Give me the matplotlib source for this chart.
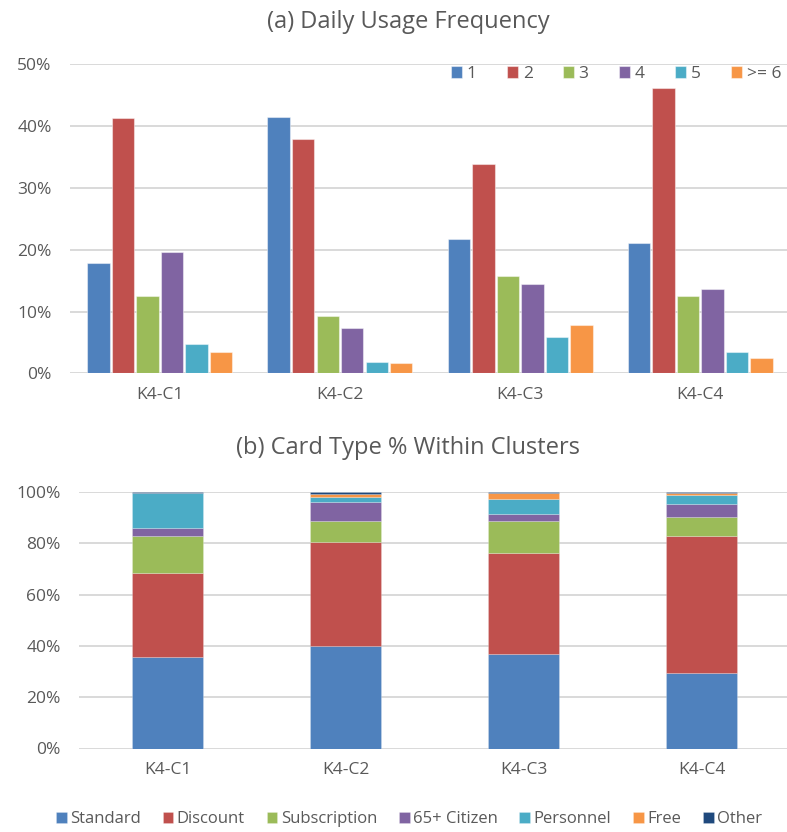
import numpy as np
import matplotlib
matplotlib.use("Agg")
import matplotlib.pyplot as plt
from matplotlib.ticker import FuncFormatter

plt.rcParams['font.family'] = ['Open Sans', 'DejaVu Sans']

# ---- data ----
clusters = ["K4-C1", "K4-C2", "K4-C3", "K4-C4"]

freq_labels = ["1", "2", "3", "4", "5", ">= 6"]
freq_1 = [17.8, 41.5, 21.8, 21.1]
freq_2 = [41.3, 37.9, 33.8, 46.2]
freq_3 = [12.5, 9.2, 15.8, 12.5]
freq_4 = [19.6, 7.4, 14.4, 13.6]
freq_5 = [4.8, 1.9, 5.8, 3.4]
freq_6plus = [3.4, 1.6, 7.8, 2.5]

card_labels = ["Standard", "Discount", "Subscription", "65+ Citizen",
               "Personnel", "Free", "Other"]
card_standard = [35.7, 40.0, 37.0, 29.4]
card_discount = [32.8, 40.5, 39.2, 53.6]
card_subscription = [14.5, 8.0, 12.3, 7.2]
card_citizen65 = [2.9, 7.7, 3.0, 5.1]
card_personnel = [13.6, 2.0, 5.6, 3.5]
card_free = [0.2, 1.2, 2.7, 1.0]
card_other = [0.3, 0.6, 0.2, 0.2]

colors = ["#4F81BD", "#C0504D", "#9BBB59", "#8064A2", "#4BACC6", "#F79646", "#1F497D"]
grid_c = "#D9D9D9"
text_c = "#595959"
W, H = 787, 832

fig = plt.figure(figsize=(W / 100, H / 100), dpi=100)
fig.patch.set_facecolor("white")

def px_rect(x0, x1, ytop, ybot):
    return [x0 / W, 1 - ybot / H, (x1 - x0) / W, (ybot - ytop) / H]

pct = FuncFormatter(lambda v, _: f"{v:.0f}%")

def style_axes(ax, ymax, step):
    ax.set_ylim(0, ymax)
    ax.set_yticks(np.arange(0, ymax + 0.01, step))
    ax.yaxis.set_major_formatter(pct)
    ax.set_xlim(-0.5, len(clusters) - 0.5)
    ax.set_xticks(range(len(clusters)))
    ax.set_xticklabels(clusters)
    ax.grid(axis="y", color=grid_c, linewidth=1.4)
    ax.set_axisbelow(True)
    for s in ax.spines.values():
        s.set_visible(False)
    ax.tick_params(axis="both", length=0, colors=text_c)
    ax.tick_params(axis="y", pad=13, labelsize=12.5)
    ax.tick_params(axis="x", pad=10, labelsize=12.5)

# ---- (a) daily usage frequency ----
ax1 = fig.add_axes(px_rect(69.6, 790.5, 64.3, 373.3))
style_axes(ax1, 50, 10)
freq_series = [freq_1, freq_2, freq_3, freq_4, freq_5, freq_6plus]
x = np.arange(len(clusters))
slot = 0.136
for i, (vals, lab) in enumerate(zip(freq_series, freq_labels)):
    ax1.bar(x + (i - 2.5) * slot, vals, width=slot - 0.012, color=colors[i],
            edgecolor=(1, 1, 1, 0.45), linewidth=0.8, label=lab, zorder=3)

leg1 = ax1.legend(loc="upper left", bbox_to_anchor=(451 / W, 1 - 66 / H),
                  bbox_transform=fig.transFigure, ncol=6, frameon=False,
                  fontsize=12.5, handlelength=0.65, handleheight=0.65,
                  handletextpad=0.25, columnspacing=1.75, borderpad=0,
                  borderaxespad=0)
for t in leg1.get_texts():
    t.set_color(text_c)

fig.text(408 / W, 1 - 22 / H, "(a) Daily Usage Frequency", ha="center",
         va="center", fontsize=17, color=text_c)

# ---- (b) card type share within clusters ----
ax2 = fig.add_axes(px_rect(78.8, 790.5, 492, 748.5))
style_axes(ax2, 100, 20)
card_series = [card_standard, card_discount, card_subscription, card_citizen65,
               card_personnel, card_free, card_other]
bottom = np.zeros(len(clusters))
for i, (vals, lab) in enumerate(zip(card_series, card_labels)):
    ax2.bar(x, vals, width=0.4, bottom=bottom, color=colors[i],
            edgecolor=(1, 1, 1, 0.3), linewidth=0.5, label=lab, zorder=3)
    bottom += np.array(vals)

leg2 = fig.legend(*ax2.get_legend_handles_labels(), loc="center left",
                  bbox_to_anchor=(56 / W, 1 - 819 / H), ncol=7, frameon=False,
                  fontsize=12, handlelength=0.65, handleheight=0.65,
                  handletextpad=0.2, columnspacing=1.3, borderpad=0,
                  borderaxespad=0)
for t in leg2.get_texts():
    t.set_color(text_c)

fig.text(408 / W, 1 - 448 / H, "(b) Card Type % Within Clusters", ha="center",
         va="center", fontsize=17, color=text_c)

fig.savefig("out.png", dpi=100, facecolor="white")
